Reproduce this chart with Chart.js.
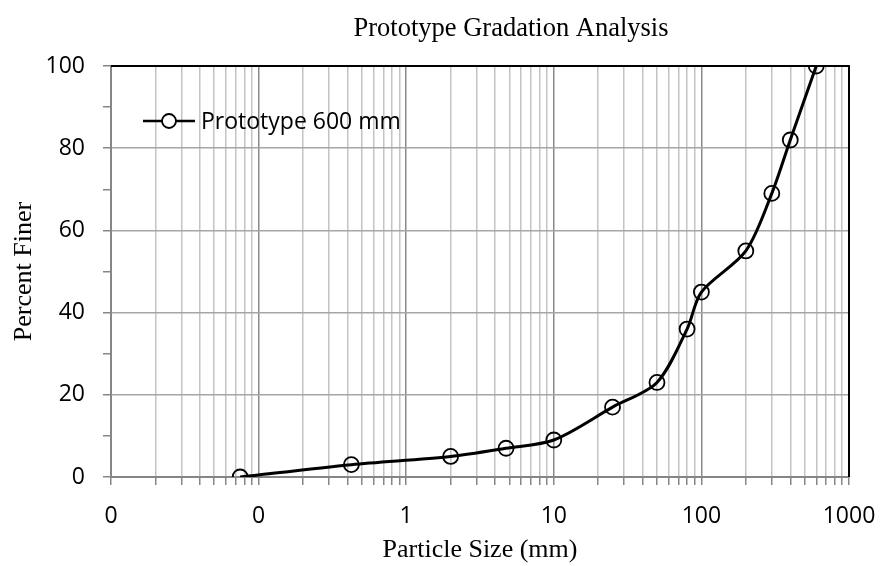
<!DOCTYPE html>
<html>
<head>
<meta charset="utf-8">
<script src="https://cdn.jsdelivr.net/npm/chart.js@4.4.1/dist/chart.umd.min.js"></script>
<style>
  html, body { margin: 0; padding: 0; background: #fff; }
  #wrap { width: 881px; height: 566px; }
</style>
</head>
<body>
<div id="wrap"><canvas id="chart-gradation"></canvas></div>
<script>
// sieve sizes (mm) and percent passing
const particleSizes = [0.075, 0.425, 2, 4.75, 10, 25, 50, 80, 100, 200, 300, 400, 600];
const percentFiner = [0, 3, 5, 7, 9, 17, 23, 36, 45, 55, 69, 82, 100];
const seriesLabel = 'Prototype 600 mm';
const chartTitle = 'Prototype Gradation Analysis';
const xTitle = 'Particle Size (mm)';
const yTitle = 'Percent Finer';

const sansFont = "'Open Sans', sans-serif";
const serifFont = "'Liberation Serif', 'Times New Roman', serif";

const isDecade = v => Math.abs(Math.log10(v) - Math.round(Math.log10(v))) < 1e-9;

// title sits off-centre in the original, so draw it by hand
const titlePlugin = {
  id: 'ownTitle',
  afterDraw(chart) {
    const ctx = chart.ctx;
    ctx.save();
    ctx.font = '26.5px ' + serifFont;
    ctx.fillStyle = '#000';
    ctx.textAlign = 'center';
    ctx.textBaseline = 'alphabetic';
    ctx.fillText(chartTitle, 511, 36);
    ctx.restore();
  }
};

// black border on top and right of the plot area
const framePlugin = {
  id: 'frame',
  afterDatasetsDraw(chart) {
    const {ctx, chartArea: a} = chart;
    ctx.save();
    ctx.strokeStyle = '#000';
    ctx.lineWidth = 2;
    ctx.beginPath();
    ctx.moveTo(a.left, a.top);
    ctx.lineTo(a.right, a.top);
    ctx.lineTo(a.right, a.bottom);
    ctx.stroke();
    ctx.restore();
  }
};

// legend inside the plot area, top left
const legendPlugin = {
  id: 'insideLegend',
  afterDraw(chart) {
    const {ctx, chartArea: a} = chart;
    const ds = chart.data.datasets[0];
    const y = a.top + 55;
    const x0 = a.left + 32;
    ctx.save();
    ctx.strokeStyle = ds.borderColor;
    ctx.lineWidth = 2.5;
    ctx.beginPath();
    ctx.moveTo(x0, y);
    ctx.lineTo(x0 + 52, y);
    ctx.stroke();
    ctx.lineWidth = 1.8;
    ctx.fillStyle = '#fff';
    ctx.beginPath();
    ctx.arc(x0 + 26, y, 7, 0, Math.PI * 2);
    ctx.fill();
    ctx.stroke();
    ctx.font = '23px ' + sansFont;
    ctx.fillStyle = '#000';
    ctx.textBaseline = 'middle';
    ctx.fillText(ds.label, x0 + 58, y + 1);
    ctx.restore();
  }
};

const data = {
  datasets: [{
    label: seriesLabel,
    data: particleSizes.map((s, i) => ({x: s, y: percentFiner[i]})),
    borderColor: '#000',
    borderWidth: 3,
    backgroundColor: 'rgba(255,255,255,0)',
    pointBorderColor: '#000',
    pointBorderWidth: 1.8,
    pointRadius: 7.5,
    pointHoverRadius: 7.5,
    tension: 0.3,
  }]
};

const config = {
  type: 'line',
  data: data,
  options: {
    responsive: true,
    maintainAspectRatio: false,
    animation: false,
    layout: {padding: {left: 0, right: 32, top: 66, bottom: 0}},
    plugins: {
      legend: {display: false},
      title: {display: false},
      tooltip: {enabled: false},
    },
    scales: {
      x: {
        type: 'logarithmic',
        min: 0.01,
        max: 1000,
        afterBuildTicks(scale) {
          const t = [];
          for (let e = -2; e <= 3; e++) {
            for (let m = 1; m <= 9; m++) {
              const v = Number((m * Math.pow(10, e)).toPrecision(6));
              if (v <= 1000) t.push({value: v, major: m === 1});
            }
          }
          scale.ticks = t;
        },
        afterFit(scale) {
          scale.height = 89;
          scale.paddingLeft = 0;
          scale.paddingRight = 0;
        },
        border: {color: '#868686', width: 2},
        grid: {
          color: ctx => (ctx.tick && isDecade(ctx.tick.value)) ? '#8a8a8a' : '#c4c4c4',
          tickColor: '#868686',
          lineWidth: 1.5,
          tickLength: 8,
        },
        ticks: {
          autoSkip: false,
          maxRotation: 0,
          padding: 18,
          color: '#000',
          font: {family: sansFont, size: 23},
          callback: v => isDecade(v) ? String(Math.round(v)) : '',
        },
        title: {
          display: true,
          text: xTitle,
          color: '#000',
          font: {family: serifFont, size: 26},
          padding: {top: 0, bottom: 0},
        },
      },
      y: {
        min: 0,
        max: 100,
        afterFit(scale) { scale.width = 111; },
        border: {color: '#868686', width: 2},
        grid: {
          color: ctx => (ctx.tick && ctx.tick.value % 20 === 0) ? '#a6a6a6' : 'rgba(0,0,0,0)',
          tickColor: '#868686',
          lineWidth: 1.5,
          tickLength: 8,
        },
        ticks: {
          stepSize: 10,
          padding: 18,
          color: '#000',
          font: {family: sansFont, size: 23},
          callback: v => v % 20 === 0 ? String(v) : '',
        },
        title: {
          display: true,
          text: yTitle,
          color: '#000',
          font: {family: serifFont, size: 26},
          padding: {top: 9, bottom: 0},
        },
      }
    }
  },
  plugins: [titlePlugin, framePlugin, legendPlugin]
};

const myChart = new Chart(document.getElementById('chart-gradation'), config);
</script>
</body>
</html>
